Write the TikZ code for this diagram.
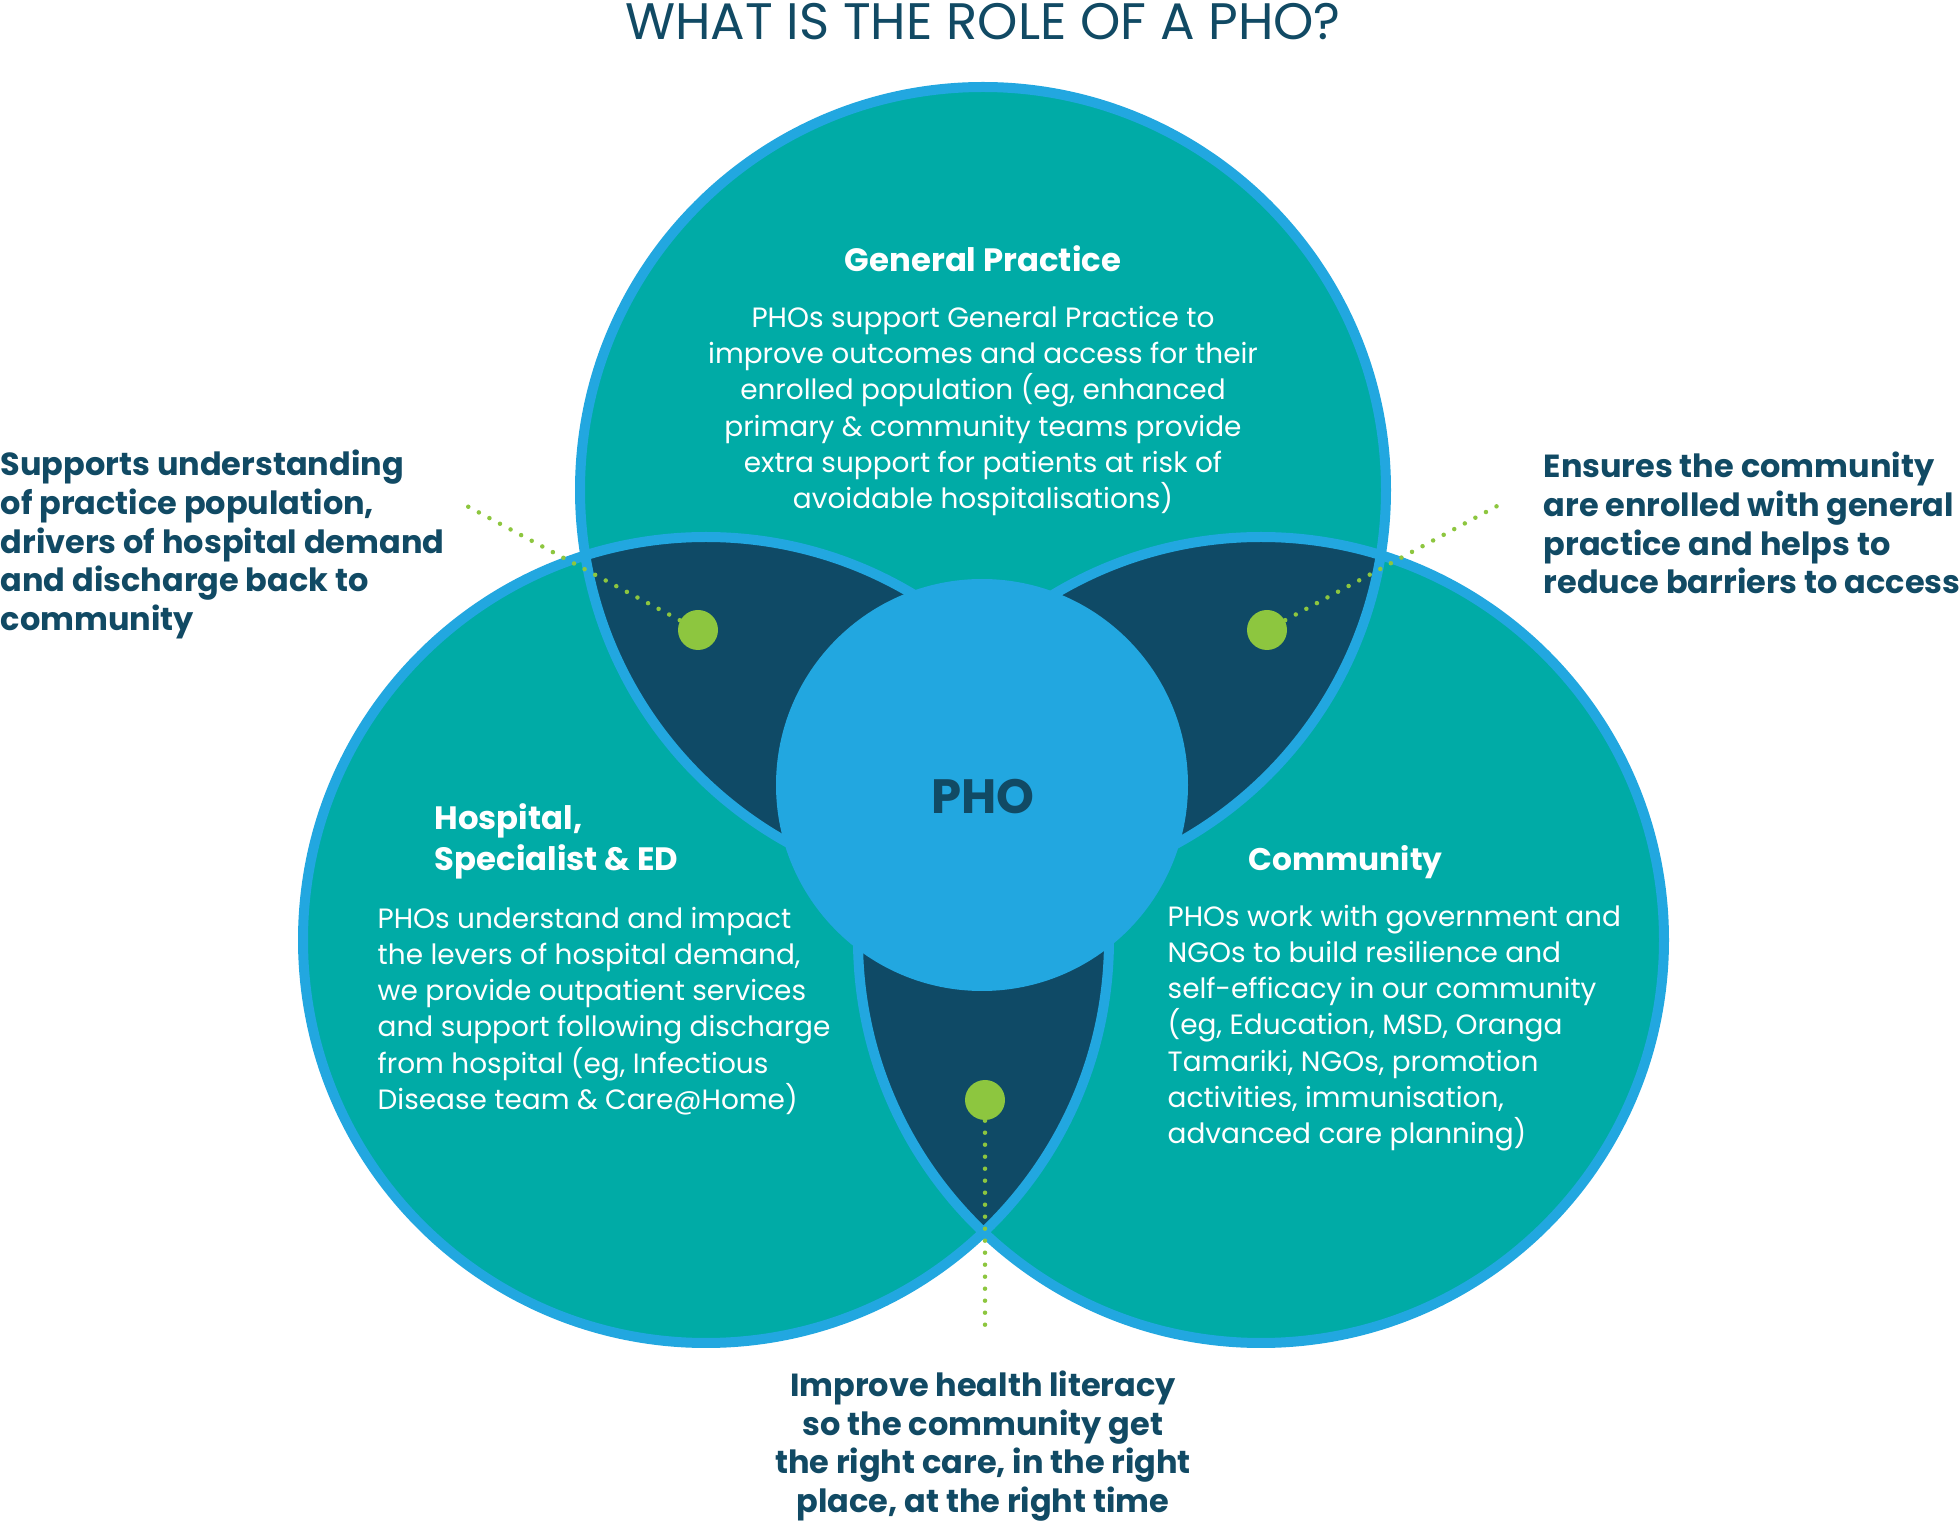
\documentclass[tikz,border=0pt]{standalone}
\usepackage{fontspec}
\setmainfont{Poppins}
\usetikzlibrary{positioning}
\definecolor{photeal}{HTML}{00ABA6}
\definecolor{phonavy}{HTML}{0F4A66}
\definecolor{phoblue}{HTML}{22A7E0}
\definecolor{phogreen}{HTML}{8DC63F}
\definecolor{photext}{HTML}{114A64}

\begin{document}
\begin{tikzpicture}[
		ring/.style={draw=phoblue,line width=1mm},
		dot node/.style={circle,fill=phogreen,minimum size=4mm,inner sep=0pt},
		head text/.style={font=\bfseries\fontsize{9.2}{11.7}\selectfont,text=white,inner sep=0pt,align=left},
		body text/.style={font=\fontsize{7.95}{10.3}\selectfont,text=white,inner sep=0pt},
		side text/.style={font=\bfseries\fontsize{9.1}{11}\selectfont,text=photext,inner sep=0pt},
		leader/.style={phogreen,line width=0.45mm,line cap=round,dash pattern=on 0pt off 1.2mm}]
	\useasboundingbox (0,0) rectangle (19.59,-15.22);
	%
	% Centres of the three circles.
	\coordinate (gp) at (9.83,-4.90);
	\coordinate (hosp) at (7.06,-9.40);
	\coordinate (comm) at (12.61,-9.40);
	%
	% Circles, then the overlaps in navy, then the rims.
	\fill[photeal] (gp) circle (4.03) (hosp) circle (4.03) (comm) circle (4.03);
	\begin{scope}
		\clip (gp) circle (4.03);
		\fill[phonavy] (hosp) circle (4.03) (comm) circle (4.03);
	\end{scope}
	\begin{scope}
		\clip (hosp) circle (4.03);
		\fill[phonavy] (comm) circle (4.03);
	\end{scope}
	\draw[ring] (gp) circle (4.03) (hosp) circle (4.03) (comm) circle (4.03);
	\fill[phoblue] (9.82,-7.85) circle (2.06);
	%
	% Title and centre label.
	\node[font=\fontsize{14.6}{16}\selectfont,text=photext,inner sep=0pt,anchor=base] (title) at (9.83,-0.40) {WHAT IS THE ROLE OF A PHO?};
	\node[font=\bfseries\fontsize{13.7}{15}\selectfont,text=photext,inner sep=0pt] (pho) at (9.83,-7.97) {PHO};
	%
	% General Practice.
	\node[head text] (gphead) at (9.83,-2.59) {General Practice};
	\node[body text,align=center] (gpbody) at (9.83,-4.11) {PHOs support General Practice to\\
		improve outcomes and access for their\\
		enrolled population (eg, enhanced\\
		primary \& community teams provide\\
		extra support for patients at risk of\\
		avoidable hospitalisations)};
	%
	% Hospital, Specialist & ED.
	\node[head text,anchor=west] (hosphead) at (4.34,-8.41) {Hospital,\\Specialist \& ED};
	\node[body text,align=left,anchor=west] (hospbody) at (3.77,-10.11) {PHOs understand and impact\\
		the levers of hospital demand,\\
		we provide outpatient services\\
		and support following discharge\\
		from hospital (eg, Infectious\\
		Disease team \& Care@Home)};
	%
	% Community.
	\node[head text,anchor=west,font=\bfseries\fontsize{8.9}{11}\selectfont] (commhead) at (12.48,-8.62) {Community};
	\node[body text,align=left,anchor=west] (commbody) at (11.67,-10.28) {PHOs work with government and\\
		NGOs to build resilience and\\
		self-efficacy in our community\\
		(eg, Education, MSD, Oranga\\
		Tamariki, NGOs, promotion\\
		activities, immunisation,\\
		advanced care planning)};
	%
	% Outer notes.
	\node[side text,align=left,anchor=west] (lftnote) at (0,-5.445) {Supports understanding\\
		of practice population,\\
		drivers of hospital demand\\
		and discharge back to\\
		community};
	\node[side text,align=left,anchor=west] (rgtnote) at (15.43,-5.23) {Ensures the community\\
		are enrolled with general\\
		practice and helps to\\
		reduce barriers to access};
	\node[side text,align=center] (botnote) at (9.83,-14.46) {Improve health literacy\\
		so the community get\\
		the right care, in the right\\
		place, at the right time};
	%
	% Dots and dotted leaders.
	\coordinate (lftend) at (4.65,-5.05);
	\coordinate (rgtend) at (14.99,-5.05);
	\coordinate (botend) at (9.85,-13.27);
	\node[dot node] (lftdot) at (6.98,-6.30) {};
	\node[dot node] (rgtdot) at (12.67,-6.30) {};
	\node[dot node] (botdot) at (9.85,-11.00) {};
	\path[leader]
		(lftdot) edge (lftend)
		(rgtdot) edge (rgtend)
		(botdot) edge (botend);
\end{tikzpicture}
\end{document}
